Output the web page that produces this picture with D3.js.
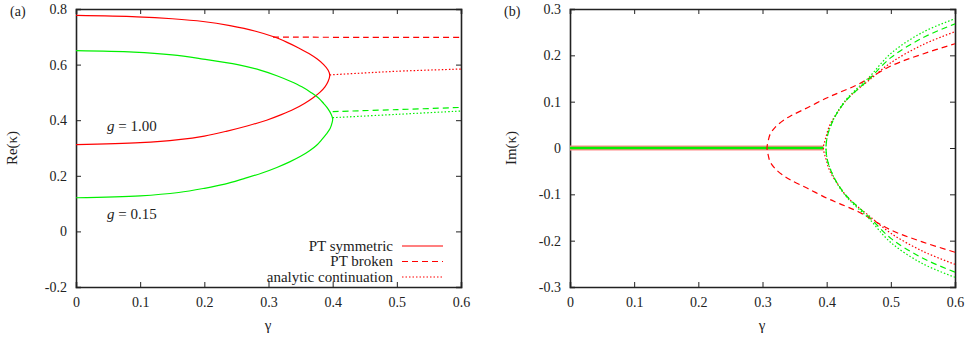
<!DOCTYPE html>
<html>
<head>
<meta charset="utf-8">
<script src="https://cdn.jsdelivr.net/npm/d3@7"></script>
<style>
  body { margin: 0; background: #fff; }
  svg text { font-family: "Liberation Serif", "DejaVu Serif", serif; fill: #222; }
</style>
</head>
<body>
<svg id="chart" width="965" height="339"></svg>
<script>
'use strict';

// gamma ticks shared by both panels
var gammaTicks = [0, 0.1, 0.2, 0.3, 0.4, 0.5, 0.6];
var reTicks = [-0.2, 0, 0.2, 0.4, 0.6, 0.8];
var imTicks = [-0.3, -0.2, -0.1, 0, 0.1, 0.2, 0.3];

// (a) PT symmetric, path order: upper branch -> fold -> lower branch
var redSymRe = [0.777, 0.772, 0.765, 0.755, 0.74, 0.72, 0.70, 0.68, 0.66, 0.64, 0.62, 0.60, 0.58, 0.562,
    0.54, 0.52, 0.50, 0.48, 0.46, 0.44, 0.42, 0.40, 0.38, 0.36, 0.343, 0.33, 0.319, 0.312];
var redSymGamma = [0, 0.095, 0.15, 0.198, 0.240, 0.280, 0.308, 0.329, 0.347, 0.363, 0.376, 0.386, 0.393, 0.3955,
    0.393, 0.388, 0.380, 0.369, 0.356, 0.340, 0.320, 0.297, 0.268, 0.234, 0.2, 0.16, 0.1, 0];
var greenSymRe = [0.650, 0.645, 0.635, 0.62, 0.60, 0.58, 0.56, 0.54, 0.52, 0.50, 0.48, 0.46, 0.44, 0.42, 0.405,
    0.39, 0.37, 0.35, 0.33, 0.31, 0.29, 0.27, 0.25, 0.23, 0.21, 0.19, 0.17, 0.155, 0.14, 0.128, 0.121];
var greenSymGamma = [0, 0.09, 0.15, 0.198, 0.252, 0.287, 0.313, 0.334, 0.352, 0.366, 0.378, 0.386, 0.393, 0.398, 0.400,
    0.399, 0.396, 0.390, 0.383, 0.375, 0.364, 0.350, 0.333, 0.313, 0.290, 0.262, 0.232, 0.2, 0.16, 0.1, 0];

// (a) PT broken / analytic continuation
var redBrokenGamma = [0.307, 0.45, 0.6];
var redBrokenRe = [0.699, 0.698, 0.698];
var redContGamma = [0.3955, 0.45, 0.5, 0.6];
var redContRe = [0.563, 0.570, 0.576, 0.584];
var greenBrokenGamma = [0.400, 0.5, 0.6];
var greenBrokenRe = [0.431, 0.438, 0.446];
var greenContGamma = [0.400, 0.5, 0.6];
var greenContRe = [0.409, 0.421, 0.433];

// (b) imaginary parts (upper half; lower half is the mirror image)
var redSymImGamma = [0, 0.395];
var greenSymImGamma = [0, 0.395];
var redBrokenImGamma = [0.307, 0.309, 0.312, 0.320, 0.335, 0.345, 0.37, 0.40, 0.42, 0.45, 0.50, 0.55, 0.60];
var redBrokenIm = [0, 0.016, 0.030, 0.045, 0.062, 0.070, 0.087, 0.108, 0.120, 0.138, 0.177, 0.203, 0.225];
var redContImGamma = [0.395, 0.399, 0.405, 0.416, 0.431, 0.447, 0.465, 0.50, 0.55, 0.60];
var redContIm = [0, 0.024, 0.050, 0.075, 0.104, 0.125, 0.145, 0.184, 0.223, 0.251];
var greenBrokenImGamma = [0.399, 0.401, 0.407, 0.416, 0.430, 0.447, 0.465, 0.50, 0.55, 0.60];
var greenBrokenIm = [0, 0.025, 0.050, 0.075, 0.102, 0.125, 0.147, 0.195, 0.238, 0.268];
var greenContImGamma = [0.399, 0.401, 0.407, 0.416, 0.430, 0.447, 0.465, 0.50, 0.55, 0.60];
var greenContIm = [0, 0.025, 0.050, 0.076, 0.104, 0.128, 0.151, 0.204, 0.250, 0.279];

var legendLabels = ['PT symmetric', 'PT broken', 'analytic continuation'];

var RED = '#ff0000';
var GREEN = '#00f000';
var DASH = '6,4';
var DOT = '1.5,2';

var svg = d3.select('#chart');

function zip(xs, ys) {
    return xs.map(function (x, i) { return [x, ys[i]]; });
}

function mirror(xs, ys) {
    // lower branch reversed, then the upper branch
    var lower = xs.map(function (x, i) { return [x, -ys[i]]; }).reverse();
    return lower.concat(zip(xs, ys).slice(1));
}

function panel(left, yDomain, yTicks, tag, yLabel, labelOffset) {
    var x = d3.scaleLinear().domain([0, 0.6]).range([left, left + 385]);
    var y = d3.scaleLinear().domain(yDomain).range([287, 9]);
    var g = svg.append('g');

    var fmt = function (d) { return d === 0 ? '0' : d3.format('.1f')(d).replace('−', '-'); };

    g.append('g').attr('transform', 'translate(0,287)')
        .call(d3.axisBottom(x).tickValues(gammaTicks).tickSize(-5).tickPadding(10).tickFormat(fmt));
    g.append('g').attr('transform', 'translate(0,9)')
        .call(d3.axisTop(x).tickValues(gammaTicks).tickSize(-5).tickFormat(''));
    g.append('g').attr('transform', 'translate(' + left + ',0)')
        .call(d3.axisLeft(y).tickValues(yTicks).tickSize(-5).tickPadding(9).tickFormat(fmt));
    g.append('g').attr('transform', 'translate(' + (left + 385) + ',0)')
        .call(d3.axisRight(y).tickValues(yTicks).tickSize(-5).tickFormat(''));

    g.selectAll('.domain').attr('stroke', '#222').attr('stroke-width', 1.6);
    g.selectAll('.tick line').attr('stroke', '#222').attr('stroke-width', 1);
    g.selectAll('.tick text').style('font-size', '14px').attr('fill', '#222')
        .style('font-family', '"Liberation Serif", serif');

    g.append('text').attr('x', left - 66).attr('y', 16).style('font-size', '14px').text(tag);
    g.append('text').attr('x', left + 192).attr('y', 330).attr('text-anchor', 'middle')
        .style('font-size', '15px').text('γ');
    g.append('text')
        .attr('transform', 'translate(' + (left - labelOffset) + ',148) rotate(-90)')
        .attr('text-anchor', 'middle').style('font-size', '15px').text(yLabel);

    return { x: x, y: y, g: g };
}

function drawLine(p, pts, color, dash, width) {
    var line = d3.line()
        .x(function (d) { return p.x(d[0]); })
        .y(function (d) { return p.y(d[1]); })
        .curve(d3.curveCatmullRom.alpha(0.5));
    p.g.append('path')
        .attr('d', line(pts))
        .attr('fill', 'none')
        .attr('stroke', color)
        .attr('stroke-width', width || 1.2)
        .attr('stroke-dasharray', dash || null);
}

// ---- panel (a)
var pa = panel(76, [-0.2, 0.8], reTicks, '(a)', 'Re(κ)', 59);
drawLine(pa, zip(redSymGamma, redSymRe), RED);
drawLine(pa, zip(greenSymGamma, greenSymRe), GREEN);
drawLine(pa, zip(redBrokenGamma, redBrokenRe), RED, DASH);
drawLine(pa, zip(redContGamma, redContRe), RED, DOT);
drawLine(pa, zip(greenBrokenGamma, greenBrokenRe), GREEN, DASH);
drawLine(pa, zip(greenContGamma, greenContRe), GREEN, DOT);

var ann = [['1.00', 131], ['0.15', 219]];
ann.forEach(function (a) {
    var t = pa.g.append('text').attr('x', 107).attr('y', a[1]).style('font-size', '15px')
        .attr('xml:space', 'preserve');
    t.append('tspan').style('font-style', 'italic').text('g');
    t.append('tspan').text(' = ' + a[0]);
});

var legend = pa.g.append('g');
legendLabels.forEach(function (label, i) {
    var yy = 246 + i * 15.5;
    legend.append('text').attr('x', 393).attr('y', yy + 4.5).attr('text-anchor', 'end')
        .style('font-size', '15px').text(label);
    legend.append('line').attr('x1', 402).attr('x2', 443).attr('y1', yy).attr('y2', yy)
        .attr('stroke', RED).attr('stroke-width', 1.2)
        .attr('stroke-dasharray', [null, DASH, DOT][i]);
});

// ---- panel (b)
var pb = panel(570, [-0.3, 0.3], imTicks, '(b)', 'Im(κ)', 54);
drawLine(pb, zip(redSymImGamma, [0, 0]), '#ff8a8a', null, 5);
drawLine(pb, zip(greenSymImGamma, [0, 0]), GREEN, null, 2.6);
drawLine(pb, mirror(redBrokenImGamma, redBrokenIm), RED, DASH);
drawLine(pb, mirror(redContImGamma, redContIm), RED, DOT);
drawLine(pb, mirror(greenBrokenImGamma, greenBrokenIm), GREEN, DASH);
drawLine(pb, mirror(greenContImGamma, greenContIm), GREEN, DOT);
</script>
</body>
</html>
